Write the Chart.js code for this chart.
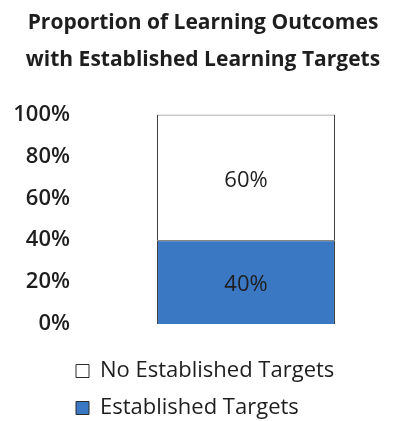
<!DOCTYPE html>
<html>
<head>
<meta charset="utf-8">
<script src="https://cdn.jsdelivr.net/npm/chart.js@4"></script>
<style>
  html, body { margin: 0; padding: 0; background: #fff; }
  #wrap { width: 401px; height: 421px; }
</style>
</head>
<body>
<div id="wrap"><canvas id="grafica"></canvas></div>
<script>
// datos del grafico
const categorias = [''];
const establecidos = [40];
const noEstablecidos = [60];
const marcasY = [0, 20, 40, 60, 80, 100];

const colorAzul = '#3a78c3';
const colorBorde = '#2b2b2b';
const fuente = '"Open Sans", Lato, sans-serif';

// etiquetas de valor dentro de cada segmento
const etiquetasBarra = {
    id: 'etiquetasBarra',
    afterDatasetsDraw(chart) {
        const ctx = chart.ctx;
        ctx.save();
        ctx.font = '22px ' + fuente;
        ctx.fillStyle = '#1e1e1e';
        ctx.textAlign = 'center';
        ctx.textBaseline = 'middle';
        chart.data.datasets.forEach((ds, i) => {
            chart.getDatasetMeta(i).data.forEach((bar, j) => {
                const y = (bar.y + bar.base) / 2 + 3;
                ctx.fillText(ds.data[j] + '%', bar.x, y);
            });
        });
        ctx.restore();
    }
};

// la leyenda va alineada con el eje, no con el borde del lienzo
const desplazarLeyenda = {
    id: 'desplazarLeyenda',
    afterLayout(chart) {
        const leyenda = chart.legend;
        if (leyenda) {
            leyenda.left += 49;
            leyenda.right += 49;
        }
    }
};

const ctx = document.getElementById('grafica').getContext('2d');
new Chart(ctx, {
    type: 'bar',
    data: {
        labels: categorias,
        datasets: [{
            label: 'Established Targets',
            data: establecidos,
            backgroundColor: colorAzul,
            borderColor: colorBorde,
            borderWidth: 1
        }, {
            label: 'No Established Targets',
            data: noEstablecidos,
            backgroundColor: '#ffffff',
            borderColor: colorBorde,
            borderWidth: 1
        }]
    },
    options: {
        responsive: true,
        maintainAspectRatio: false,
        animation: false,
        layout: { padding: { left: 12, right: 7, top: 0, bottom: -8 } },
        datasets: { bar: { barPercentage: 0.601, categoryPercentage: 1 } },
        scales: {
            x: {
                stacked: true,
                grid: { display: false, drawTicks: false },
                border: { display: false },
                ticks: { display: false },
                afterFit(scale) { scale.height = 21; }
            },
            y: {
                stacked: true,
                min: 0,
                max: 100,
                grid: { display: false, drawTicks: false },
                border: { display: false },
                afterBuildTicks(scale) { scale.ticks = marcasY.map(v => ({ value: v })); },
                afterFit(scale) { scale.width = 86; },
                ticks: {
                    padding: 28,
                    color: '#1e1e1e',
                    font: { family: fuente, size: 22, weight: '600' },
                    callback: v => v + '%'
                }
            }
        },
        plugins: {
            title: {
                display: true,
                text: ['Proportion of Learning Outcomes', 'with Established Learning Targets'],
                color: '#1e1e1e',
                font: { family: fuente, size: 21, weight: 'bold', lineHeight: 1.75 },
                padding: { top: 5, bottom: 36 }
            },
            legend: {
                position: 'bottom',
                align: 'start',
                reverse: true,
                labels: {
                    color: '#1e1e1e',
                    boxWidth: 13,
                    boxHeight: 13,
                    padding: 15,
                    font: { family: fuente, size: 22 }
                }
            },
            tooltip: { enabled: false }
        }
    },
    plugins: [etiquetasBarra, desplazarLeyenda]
});
</script>
</body>
</html>
